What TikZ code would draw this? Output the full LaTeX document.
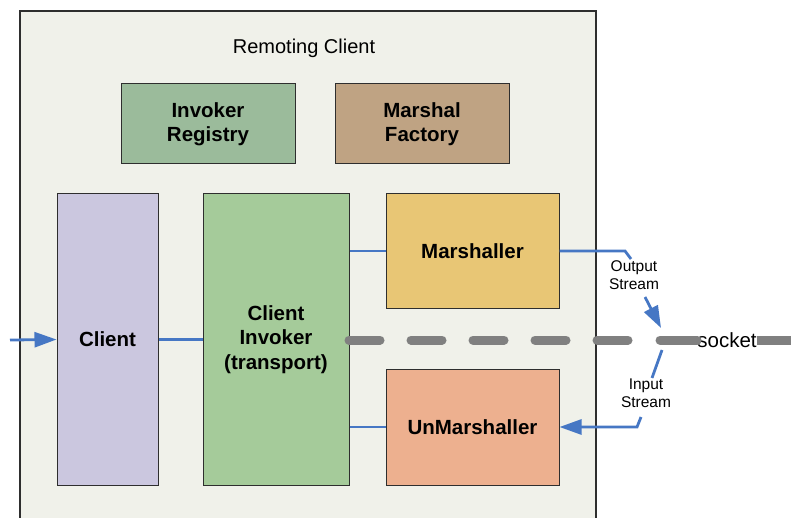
\documentclass[tikz,border=0pt]{standalone}
\usepackage{fontspec}
\setmainfont{Liberation Sans}
\usetikzlibrary{arrows.meta}
\definecolor{panel}{HTML}{F0F1EA}
\definecolor{edge}{HTML}{2E2E2E}
\definecolor{flow}{HTML}{4677C4}
\definecolor{sock}{HTML}{808080}
\definecolor{cregistry}{HTML}{9BBB9B}
\definecolor{cfactory}{HTML}{BFA383}
\definecolor{cclient}{HTML}{CBC7DF}
\definecolor{cinvoker}{HTML}{A5CB9A}
\definecolor{cmarsh}{HTML}{E8C675}
\definecolor{cunmarsh}{HTML}{EDB08F}
\tikzset{
  block/.style={draw=edge, line width=1pt, inner sep=0pt, align=center,
    font=\fontsize{20.5}{24.5}\selectfont\bfseries},
  flowline/.style={draw=flow, line width=2.8pt},
  flowarrow/.style={flowline, -{Triangle[length=22pt,width=15pt]}},
  small/.style={font=\fontsize{15.5}{18}\selectfont, align=center, inner sep=0pt},
  sockline/.style={draw=sock, line width=9pt, line cap=round}
}
\begin{document}
\begin{tikzpicture}[x=1pt, y=-1pt]
\useasboundingbox (0,0) rectangle (791,518);
\begin{scope}
\clip (0,0) rectangle (791,518);
% container
\draw[fill=panel, draw=edge, line width=1.2pt] (20,11) rectangle (596,540);
\end{scope}
\node[font=\fontsize{20}{24}\selectfont] (title) at (304,48) {Remoting Client};

% components
\node[block, fill=cregistry, minimum width=174pt, minimum height=80pt] (registry) at (208,124) {Invoker\\Registry};
\node[block, fill=cfactory, minimum width=174pt, minimum height=80pt] (factory) at (422,124) {Marshal\\Factory};
\node[block, fill=cclient, minimum width=101pt, minimum height=291pt] (client) at (107.5,339.5) {Client};
\node[block, fill=cinvoker, minimum width=146pt, minimum height=291pt] (invoker) at (276,339.5) {Client\\Invoker\\(transport)};
\node[block, fill=cmarsh, minimum width=173pt, minimum height=114pt] (marsh) at (472.5,251) {Marshaller};
\node[block, fill=cunmarsh, minimum width=173pt, minimum height=116pt] (unmarsh) at (472.5,427) {UnMarshaller};

% socket
\node[font=\fontsize{20.5}{24}\selectfont, inner sep=0pt] (socket) at (727,340) {socket};
\draw[sockline, dash pattern=on 31pt off 31pt] (349,340) -- (640,340);
\draw[sockline] (660,340) -- (socket.west);
\draw[draw=sock, line width=9pt] (socket.east) -- (791,340);

% streams
\node[small] (out) at (634,275) {Output\\Stream};
\node[small] (in) at (646,393) {Input\\Stream};

% connectors
\coordinate (src) at (10,340);
\draw[flowarrow] (src) -- (client.west);
\draw[flowline] (client.east) -- (client.east -| invoker.west);
\draw[flowline] (marsh.west -| invoker.east) -- (marsh.west);
\draw[flowline] (unmarsh.west -| invoker.east) -- (unmarsh.west);

\coordinate (o1) at (625,251);
\coordinate (o2) at (631,259);
\coordinate (o3) at (645,297);
\coordinate (o4) at (661,328);
\draw[flowline] (marsh.east) -- (o1) -- (o2);
\draw[flowarrow] (o3) -- (o4);

\coordinate (i1) at (662,350);
\coordinate (i2) at (652,378);
\coordinate (i3) at (641,417);
\coordinate (i4) at (637,427);
\draw[flowline] (i1) -- (i2);
\draw[flowarrow] (i3) -- (i4) -- (unmarsh.east);
\end{tikzpicture}
\end{document}
